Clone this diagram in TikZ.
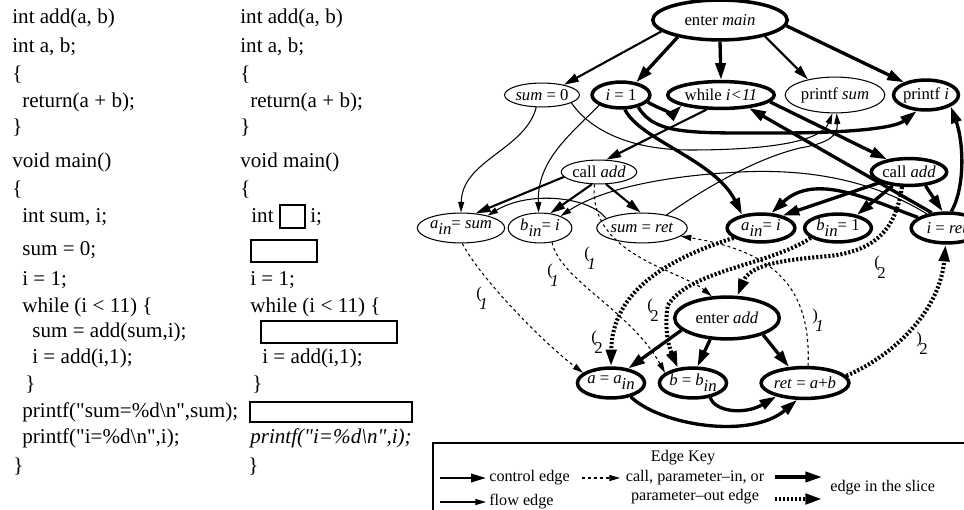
\documentclass[tikz,border=0pt]{standalone}
\usepackage{fontspec}
\setmainfont{Liberation Serif}
\usetikzlibrary{shapes.geometric,arrows.meta}
\newcommand{\cdf}{\fontsize{12}{14}\selectfont}
\newcommand{\ndf}{\fontsize{9.5}{11}\selectfont}
\newcommand{\lgf}{\fontsize{9.2}{11}\selectfont}
\newcommand{\sbi}[1]{\raisebox{-0.8ex}{\textit{#1}}}
\newcommand{\plab}[2]{#1\kern-1.5pt\raisebox{-6.5pt}{#2}}
\newcommand{\qq}{\textquotedbl}
\begin{document}
\begin{tikzpicture}[x=0.02cm,y=-0.02cm,
  nd/.style={ellipse, draw, line width=0.6pt, inner sep=0pt, font=\ndf},
  thk/.style={line width=2pt},
  sz/.style 2 args={minimum width=#1*0.5669pt, minimum height=#2*0.5669pt},
  cd/.style={anchor=west, inner sep=0pt, font=\cdf, text height=8.5pt, text depth=2.5pt},
  ctl/.style={line width=1.2pt, -{Triangle[length=8.5pt,width=4.8pt]}},
  flw/.style={line width=0.6pt, -{Triangle[length=6pt,width=3.4pt]}},
  slc/.style={line width=1.9pt, -{Triangle[length=9.5pt,width=5.8pt]}},
  par/.style={line width=0.6pt, dash pattern=on 1.7pt off 1.7pt, -{Triangle[length=6pt,width=3.4pt]}},
  pslc/.style={line width=2.3pt, dash pattern=on 1.2pt off 1.1pt, -{Triangle[length=9.5pt,width=5.8pt]}},
  lbl/.style={font=\ndf, inner sep=0pt},
  lg/.style={font=\lgf, inner sep=0pt}]
\useasboundingbox (0,0) rectangle (964,510);

% ---------- code, left column
\node[cd] (c1) at (12,18) {int add(a, b)};
\node[cd] (c2) at (12,47) {int a, b;};
\node[cd] (c3) at (12,75) {\{};
\node[cd] (c4) at (22,102) {return(a + b);};
\node[cd] (c5) at (12,128) {\}};
\node[cd] (c6) at (12,162) {void main()};
\node[cd] (c7) at (12,190) {\{};
\node[cd] (c8) at (22,217) {int sum, i;};
\node[cd] (c9) at (22,250) {sum = 0;};
\node[cd] (c10) at (22,280) {i = 1;};
\node[cd] (c11) at (22,307) {while (i < 11) \{};
\node[cd] (c12) at (32,332) {sum = add(sum,i);};
\node[cd] (c13) at (32,358) {i = add(i,1);};
\node[cd] (c14) at (25,385) {\}};
\node[cd] (c15) at (22,412) {printf(\qq sum=\%d\textbackslash n\qq,sum);};
\node[cd] (c16) at (22,438) {printf(\qq i=\%d\textbackslash n\qq,i);};
\node[cd] (c17) at (13,467) {\}};

% ---------- code, right column (slice)
\node[cd] (r1) at (240,18) {int add(a, b)};
\node[cd] (r2) at (240,47) {int a, b;};
\node[cd] (r3) at (240,75) {\{};
\node[cd] (r4) at (250,102) {return(a + b);};
\node[cd] (r5) at (240,128) {\}};
\node[cd] (r6) at (240,162) {void main()};
\node[cd] (r7) at (240,190) {\{};
\node[cd] (r8) at (251,217) {int};
\draw[line width=0.6pt] (280,205) rectangle (305,228);
\node[cd] (r8b) at (310,217) {i;};
\draw[line width=0.6pt] (251,240) rectangle (317,262);
\node[cd] (r10) at (250,280) {i = 1;};
\node[cd] (r11) at (250,307) {while (i < 11) \{};
\draw[line width=0.6pt] (261,321) rectangle (397,343);
\node[cd] (r13) at (262,358) {i = add(i,1);};
\node[cd] (r14) at (252,385) {\}};
\draw[line width=0.6pt] (250,402) rectangle (412,422);
\node[cd] (r16) at (250,438) {\textit{printf(\qq i=\%d\textbackslash n\qq,i);}};
\node[cd] (r17) at (248,467) {\}};

% ---------- graph nodes
\node[nd, thk, sz={135}{40}] (em) at (720,20) {enter \textit{main}};
\node[nd, sz={67}{24}] (s0) at (542,95) {\textit{sum} = 0};
\node[nd, thk, sz={58}{26}] (i1) at (621,95) {\textit{i} = 1};
\node[nd, thk, sz={107}{27}] (wh) at (721,95) {while \textit{i<11}};
\node[nd, sz={100}{36}] (ps) at (835,95) {printf \textit{sum}};
\node[nd, thk, sz={65}{30}] (pi) at (926,95) {printf \textit{i}};
\node[nd, sz={72}{24}] (ca1) at (599,172) {call \textit{add}};
\node[nd, thk, sz={75}{27}] (ca2) at (909,172) {call \textit{add}};
\node[nd, sz={82}{30}] (ais) at (461,228) {\textit{a}\sbi{in}= \textit{sum}};
\node[nd, sz={64}{30}] (bii) at (540,228) {\textit{b}\sbi{in}= \textit{i}};
\node[nd, sz={91}{30}] (sr) at (642,228) {\textit{sum} = \textit{ret}};
\node[nd, thk, sz={68}{28}] (aii) at (761,228) {\textit{a}\sbi{in}= \textit{i}};
\node[nd, thk, sz={67}{28}] (bi1) at (838,228) {\textit{b}\sbi{in}= 1};
\node[nd, thk, sz={72}{30}] (ir) at (947,228) {\textit{i} = \textit{ret}};
\node[nd, thk, sz={105}{42}] (ea) at (727,318) {enter \textit{add}};
\node[nd, thk, sz={65}{30}] (aa) at (611,383) {\textit{a} = \textit{a}\sbi{in}};
\node[nd, thk, sz={65}{30}] (bb) at (693,383) {\textit{b} = \textit{b}\sbi{in}};
\node[nd, thk, sz={85}{31}] (rab) at (805,383) {\textit{ret} = \textit{a}+\textit{b}};

% ---------- control edges (not in slice)
\draw[ctl] (em.191) -- (s0.25);
\draw[ctl] (em.-20) -- (ps.150);
\draw[ctl] (wh.225) -- (ca1.60);
\draw[ctl] (ca1.188) -- (ais.45);
\draw[ctl] (ca1.240) -- (bii.55);
\draw[ctl] (ca1.-60) -- (sr.95);

% ---------- slice edges (solid)
\draw[slc] (em.202) -- (i1.40);
\draw[slc] (em.south) -- (wh.north);
\draw[slc] (em.-5) -- (pi.150);
\draw[slc] (wh.-8) -- (ca2.150);
\draw[slc] (ca2.200) -- (aii.30);
\draw[slc] (ca2.220) -- (bi1.35);
\draw[slc] (ca2.-40) -- (ir.105);
\draw[slc] (ea.195) -- (aa.40);
\draw[slc] (ea.232) -- (bb.75);
\draw[slc] (ea.-25) -- (rab.135);
\draw[slc] (i1.-15) .. controls (665,112) and (675,112) .. (wh.195);
\draw[slc] (i1.-35) .. controls (655,135) and (690,133) .. (780,133) .. controls (850,133) and (895,128) .. (pi.240);
\draw[slc] (i1.-75) .. controls (640,140) and (715,160) .. (aii.145);
\draw[slc] (ir.135) -- (wh.-25);
\draw[slc] (ir.75) .. controls (966,185) and (963,140) .. (pi.-25);
\draw[slc] (ir.160) .. controls (870,200) and (815,172) .. (aii.55);
\draw[slc] (aa.-35) .. controls (660,425) and (750,440) .. (rab.245);
\draw[slc] (bb.-40) .. controls (715,412) and (745,415) .. (rab.205);

% ---------- flow edges (thin)
\draw[flw] (s0.245) .. controls (525,150) and (462,160) .. (ais.north);
\draw[flw] (s0.-15) .. controls (590,130) and (630,150) .. (690,150) .. controls (750,150) and (820,145) .. (ps.262);
\draw[flw] (i1.205) .. controls (570,135) and (537,160) .. (bii.95);
\draw[flw] (sr.165) .. controls (590,197) and (530,190) .. (ais.25);
\draw[flw] (sr.28) .. controls (695,195) and (750,160) .. (800,148) .. controls (830,143) and (838,135) .. (ps.-85);
\draw[flw] (ir.145) .. controls (880,185) and (820,168) .. (740,172) .. controls (660,176) and (600,190) .. (bii.30);

% ---------- call / parameter edges
\draw[par] (ais.-85) .. controls (478,275) and (540,340) .. (aa.160);
\draw[par] (bii.-50) .. controls (560,280) and (630,310) .. (bb.160);
\draw[par] (ca1.250) .. controls (588,255) and (680,270) .. (ea.125);
\draw[par] (rab.80) .. controls (812,280) and (765,250) .. (sr.-12);
\draw[pslc] (aii.200) .. controls (670,258) and (612,290) .. (aa.north);
\draw[pslc] (bi1.200) .. controls (770,265) and (690,270) .. (668,305) .. controls (664,325) and (668,345) .. (bb.135);
\draw[pslc] (ca2.245) .. controls (896,225) and (880,250) .. (830,256) .. controls (780,260) and (750,265) .. (ea.65);
\draw[pslc] (rab.10) .. controls (895,355) and (940,310) .. (ir.-95);

% ---------- parenthesis labels
\node[lbl] (p1) at (482,298) {\plab{(}{\textit{1}}};
\node[lbl] (p2) at (553,275) {\plab{(}{\textit{1}}};
\node[lbl] (p3) at (590,258) {\plab{(}{\textit{1}}};
\node[lbl] (p4) at (818,320) {\plab{)}{\textit{1}}};
\node[lbl] (p5) at (597,342) {\plab{(}{2}};
\node[lbl] (p6) at (653,310) {\plab{(}{2}};
\node[lbl] (p7) at (880,267) {\plab{(}{2}};
\node[lbl] (p8) at (922,343) {\plab{)}{2}};

% ---------- edge key
\draw[line width=0.6pt] (433,443) rectangle (975,515);
\node[lg] (ek) at (683,458) {Edge Key};
\coordinate (k1a) at (440,478); \coordinate (k1b) at (486,478);
\draw[ctl] (k1a) -- (k1b);
\node[lg, anchor=west] (k1t) at (489,478) {control edge};
\coordinate (k2a) at (440,502); \coordinate (k2b) at (486,502);
\draw[flw] (k2a) -- (k2b);
\node[lg, anchor=west] (k2t) at (489,502) {flow edge};
\coordinate (k3a) at (582,478); \coordinate (k3b) at (620,478);
\draw[par] (k3a) -- (k3b);
\node[lg, align=center] (k3t) at (695,487) {call, parameter–in, or\\parameter–out edge};
\coordinate (k4a) at (775,477); \coordinate (k4b) at (822,477);
\draw[slc] (k4a) -- (k4b);
\coordinate (k5a) at (775,499); \coordinate (k5b) at (822,499);
\draw[pslc] (k5a) -- (k5b);
\node[lg, anchor=west] (k4t) at (830,488) {edge in the slice};
\end{tikzpicture}
\end{document}
